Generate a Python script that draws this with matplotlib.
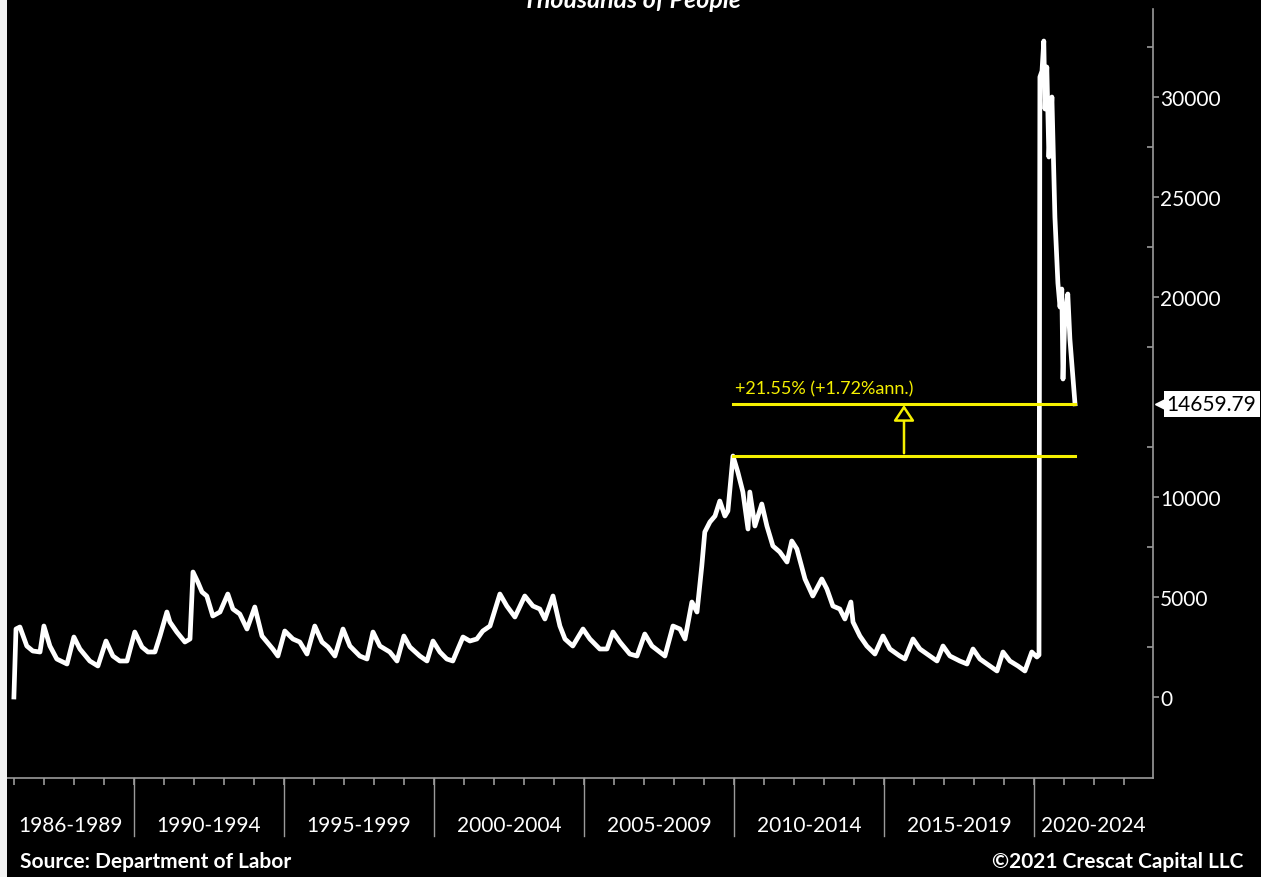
import numpy as np
import matplotlib
matplotlib.use('Agg')
import matplotlib.pyplot as plt
from matplotlib.patches import Rectangle, FancyArrowPatch

# ----------------------------------------------------------------------
# --- data (continued claims, all programs, thousands)

years = [1986.00, 1986.07, 1986.20, 1986.43, 1986.63, 1986.87, 1987.00, 1987.20, 1987.43, 1987.77,
         1988.00, 1988.20, 1988.53, 1988.80, 1989.07, 1989.30, 1989.53, 1989.77, 1990.03, 1990.27,
         1990.47, 1990.70, 1990.87, 1991.10, 1991.20, 1991.43, 1991.70, 1991.87, 1991.97, 1992.13,
         1992.27, 1992.43, 1992.63, 1992.87, 1993.13, 1993.30, 1993.53, 1993.77, 1994.03, 1994.27,
         1994.63, 1994.80, 1995.03, 1995.30, 1995.53, 1995.77, 1996.03, 1996.27, 1996.47, 1996.70,
         1996.97, 1997.20, 1997.53, 1997.77, 1997.97, 1998.20, 1998.53, 1998.77, 1999.00, 1999.20,
         1999.53, 1999.77, 1999.97, 2000.20, 2000.43, 2000.63, 2000.97, 2001.20, 2001.43, 2001.63,
         2001.87, 2002.20, 2002.43, 2002.70, 2003.03, 2003.30, 2003.53, 2003.70, 2003.97, 2004.20,
         2004.37, 2004.63, 2004.97, 2005.20, 2005.53, 2005.77, 2005.97, 2006.20, 2006.53, 2006.77,
         2007.03, 2007.27, 2007.53, 2007.70, 2007.97, 2008.20, 2008.37, 2008.60, 2008.77, 2008.93,
         2009.03, 2009.20, 2009.37, 2009.53, 2009.70, 2009.80, 2009.97, 2010.13, 2010.30, 2010.47,
         2010.53, 2010.70, 2010.93, 2011.10, 2011.30, 2011.53, 2011.77, 2011.93, 2012.10, 2012.37,
         2012.63, 2012.93, 2013.10, 2013.30, 2013.53, 2013.70, 2013.90, 2013.97, 2014.20, 2014.43,
         2014.70, 2014.97, 2015.20, 2015.53, 2015.70, 2015.97, 2016.20, 2016.53, 2016.77, 2016.97,
         2017.20, 2017.53, 2017.77, 2017.97, 2018.20, 2018.53, 2018.77, 2018.97, 2019.20, 2019.47,
         2019.70, 2019.93, 2020.10, 2020.17, 2020.20, 2020.27, 2020.33, 2020.37, 2020.43, 2020.50,
         2020.60, 2020.70, 2020.80, 2020.87, 2020.93, 2020.97, 2021.03, 2021.13, 2021.20, 2021.37]

claims = [0, 3400, 3500, 2550, 2300, 2250, 3550, 2550, 1900, 1650,
          3000, 2400, 1800, 1550, 2800, 2050, 1800, 1800, 3250, 2500,
          2250, 2250, 3050, 4250, 3750, 3250, 2750, 2900, 6250, 5750,
          5250, 5050, 4050, 4250, 5150, 4400, 4150, 3400, 4500, 3050,
          2400, 2050, 3300, 2900, 2750, 2150, 3550, 2750, 2500, 2050,
          3400, 2550, 2050, 1900, 3250, 2550, 2250, 1800, 3050, 2500,
          2050, 1800, 2800, 2250, 1900, 1800, 3000, 2800, 2900, 3300,
          3550, 5150, 4550, 4000, 5050, 4550, 4400, 3900, 5050, 3550,
          2900, 2550, 3400, 2900, 2400, 2400, 3250, 2750, 2150, 2050,
          3150, 2550, 2250, 2050, 3550, 3400, 2900, 4750, 4250, 6550,
          8250, 8750, 9050, 9800, 9050, 9300, 12050, 11250, 10250, 8400,
          10250, 8550, 9650, 8550, 7550, 7250, 6750, 7800, 7400, 5900,
          5050, 5900, 5400, 4550, 4400, 3900, 4750, 3750, 3050, 2550,
          2150, 3050, 2400, 2050, 1900, 2900, 2400, 2050, 1800, 2550,
          2050, 1800, 1650, 2400, 1900, 1550, 1300, 2250, 1800, 1550,
          1300, 2250, 2000, 2100, 31000, 31300, 32800, 29400, 31500, 27000,
          30000, 24000, 20700, 19500, 20400, 15900, 19000, 20150, 17900, 14659.79]

period_labels = ['1986-1989', '1990-1994', '1995-1999', '2000-2004',
                 '2005-2009', '2010-2014', '2015-2019', '2020-2024']
period_breaks = [1990, 1995, 2000, 2005, 2010, 2015, 2020]

base_year, base_value = 2009.97, 12050
last_year, last_value = 2021.37, 14659.79
change_text = '+21.55% (+1.72%ann.)'

# ----------------------------------------------------------------------
# --- figure

plt.rcParams['font.family'] = ['Lato', 'DejaVu Sans']

W, H = 1261, 878
fig = plt.figure(figsize=(W / 100, H / 100), dpi=100, facecolor='black')
fig.patches.append(Rectangle((0, 0), 7 / W, 1, transform=fig.transFigure,
                             facecolor='#f2f2f2', edgecolor='none', zorder=0))

ax = fig.add_axes([7 / W, 99 / H, 1146 / W, 769 / H])
ax.set_facecolor('black')

ax.plot(years, claims, color='white', lw=3.4, solid_joinstyle='round', zorder=3)

xmin, xmax = 1985.77, 2023.97
ax.set_xlim(xmin, xmax)
ax.set_ylim(-4050, 34400)

# spines
for s in ['top', 'left']:
    ax.spines[s].set_visible(False)
for s in ['right', 'bottom']:
    ax.spines[s].set_color('#9a9a9a')
    ax.spines[s].set_linewidth(1.2)

# y axis on the right
ax.yaxis.tick_right()
yt = [0, 5000, 10000, 20000, 25000, 30000]
ax.set_yticks(yt)
ax.set_yticklabels([str(v) for v in yt])
ax.set_yticks(np.arange(2500, 34000, 5000), minor=True)
ax.tick_params(axis='y', which='major', colors='#9a9a9a', length=4, width=1.2,
               direction='out', pad=1, labelsize=15, labelcolor='white')
ax.tick_params(axis='y', which='minor', colors='#9a9a9a', length=4, width=1.2,
               direction='in')

# x axis: yearly ticks, period separators and centred labels
ax.set_xticks(np.arange(1986, 2024))
ax.set_xticklabels([])
ax.set_xticks([], minor=True)
ax.tick_params(axis='x', which='major', colors='#9a9a9a', length=5, width=1.2,
               direction='out')
edges = [xmin] + period_breaks + [xmax]
for b in period_breaks:
    ax.plot([b, b], [0, -58 / 769], transform=ax.get_xaxis_transform(),
            color='#9a9a9a', lw=1, clip_on=False)
for lab, a, b in zip(period_labels, edges[:-1], edges[1:]):
    ax.text((a + b) / 2, -47 / 769, lab, transform=ax.get_xaxis_transform(),
            ha='center', va='center', color='white', fontsize=15)

# yellow change annotation
yel = '#f5f000'
ax.plot([base_year, last_year], [base_value, base_value], color=yel, lw=2.2, zorder=4)
ax.plot([base_year, last_year], [last_value, last_value], color=yel, lw=2.2, zorder=4)
arr_x = 2015.67
ax.add_patch(FancyArrowPatch((arr_x, base_value), (arr_x, last_value + 80),
                             arrowstyle='-|>,head_length=6,head_width=4',
                             mutation_scale=1.6, color=yel, fc='black', lw=1.8, zorder=4))
ax.text(base_year + 0.07, last_value + 350, change_text, color=yel, fontsize=13,
        ha='left', va='bottom')

# last value tag
ax.text(1.012, last_value, f'{last_value:.2f}', transform=ax.get_yaxis_transform(),
        ha='left', va='center', color='black', fontsize=15, zorder=6, clip_on=False,
        bbox=dict(boxstyle='square,pad=0.15', fc='white', ec='none'))
ax.plot([1.007], [last_value], transform=ax.get_yaxis_transform(), marker='<',
        ms=8, color='white', clip_on=False, zorder=6)

# title (cut off at the top in the original) and footer
fig.text(632 / W, 1 - 8 / H, 'Thousands of People', ha='center', va='baseline',
         color='white', fontsize=18, fontweight='bold', fontstyle='italic')
fig.text(20 / W, 16 / H, 'Source: Department of Labor', ha='left', va='center',
         color='white', fontsize=15, fontweight='bold')
fig.text(1243 / W, 16 / H, '\u00a92021 Crescat Capital LLC', ha='right', va='center',
         color='white', fontsize=15, fontweight='bold')

fig.savefig('out.png', dpi=100, facecolor=fig.get_facecolor())
